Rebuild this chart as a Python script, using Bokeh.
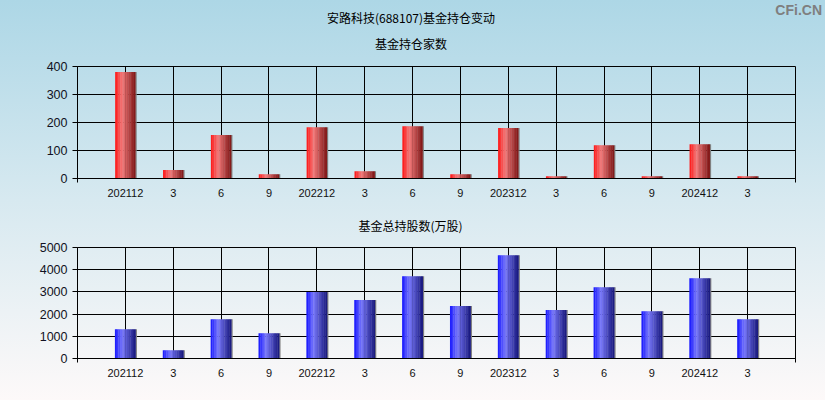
from bokeh.plotting import figure
from bokeh.layouts import column
from bokeh.models import ColumnDataSource, Range1d, FixedTicker, Div
from bokeh.transform import dodge
from bokeh.embed import file_html
from bokeh.resources import INLINE

# ---------------- data ----------------
periods = ["202112", "3", "6", "9", "202212", "3", "6", "9",
           "202312", "3", "6", "9", "202412", "3"]
fund_count = [380, 30, 155, 15, 183, 26, 187, 15, 180, 8, 119, 8, 122, 8]
fund_shares = [1320, 370, 1770, 1140, 2990, 2630, 3710, 2360,
               4650, 2180, 3210, 2130, 3620, 1770]
count_ticks = [0, 100, 200, 300, 400]
share_ticks = [0, 1000, 2000, 3000, 4000, 5000]
main_title = "安路科技(688107)基金持仓变动"
count_title = "基金持仓家数"
share_title = "基金总持股数(万股)"
watermark = "CFi.CN"

positions = list(range(1, len(periods) + 1))
CJK = "Noto Sans CJK SC"
NUM = "Liberation Sans"
W = 825
HEAD_H = 58


def hex2rgb(h):
    h = h.lstrip("#")
    return tuple(int(h[i:i + 2], 16) for i in (0, 2, 4))


def gradient(stops, n):
    out = []
    for i in range(n):
        t = (i + 0.5) / n
        for (t0, c0), (t1, c1) in zip(stops[:-1], stops[1:]):
            if t0 <= t <= t1:
                f = (t - t0) / (t1 - t0)
                a, b = hex2rgb(c0), hex2rgb(c1)
                rgb = tuple(round(a[k] + (b[k] - a[k]) * f) for k in range(3))
                out.append("#%02x%02x%02x" % rgb)
                break
    return out


RED = [(0.0, "#ff1414"), (0.35, "#f27a7a"), (1.0, "#7e1414")]
BLUE = [(0.0, "#1414ff"), (0.35, "#7878fa"), (1.0, "#16167a")]

# ---------------- header (main title, subtitle, watermark) ----------------
def centered(text, top_px):
    return (f'<div style="position:absolute;left:0;width:822px;top:{top_px}px;'
            f"text-align:center;font-family:'{CJK}';font-size:12px;"
            f'line-height:14px;color:#000;white-space:nowrap;">{text}</div>')


head_html = (
    f'<div style="position:relative;width:{W}px;height:{HEAD_H}px;margin:0;padding:0;">'
    + centered(main_title, 11)
    + centered(count_title, 36.5)
    + f'<div style="position:absolute;right:3px;top:3px;'
    f"font-family:'{NUM}';font-weight:bold;font-size:14px;line-height:14px;"
    f'color:#7f7f7f;white-space:nowrap;">{watermark}</div>'
    + '</div>'
)
head = Div(text=head_html, width=W, height=HEAD_H, margin=0,
           styles={"background": "linear-gradient(180deg, #add7e6 0%, #b9dce9 100%)"})


def make_panel(values, ticks, stops, height, left, right, top, bottom, bar_w, bg):
    p = figure(width=W, height=height, output_backend="svg",
               toolbar_location=None, x_range=Range1d(0, 15),
               y_range=Range1d(ticks[0], ticks[-1]),
               min_border_left=left, min_border_right=right,
               min_border_top=top, min_border_bottom=bottom)
    p.border_fill_color = None
    p.background_fill_color = None
    p.outline_line_color = "black"
    p.outline_line_width = 1
    p.styles = {"background": bg}

    src = ColumnDataSource(dict(x=positions, v=values))
    n = 12
    cols = gradient(stops, n)
    sw = bar_w / n
    p.vbar(x=dodge("x", bar_w / 2 + 0.012), top="v", bottom=0, width=0.03,
           source=src, fill_color="#808080", line_color=None)
    for i, c in enumerate(cols):
        off = -bar_w / 2 + (i + 0.5) * sw
        p.vbar(x=dodge("x", off), top="v", bottom=0, width=sw * 1.2,
               source=src, fill_color=c, line_color=None)

    p.xgrid.ticker = FixedTicker(ticks=positions)
    p.ygrid.ticker = FixedTicker(ticks=ticks)
    for g in (p.xgrid, p.ygrid):
        g.grid_line_color = "black"
        g.grid_line_alpha = 1
        g.grid_line_width = 1

    xa = p.xaxis[0]
    xa.ticker = FixedTicker(ticks=positions, minor_ticks=[0, 15])
    xa.major_label_overrides = {pos: lab for pos, lab in zip(positions, periods)}
    xa.major_tick_out = 0
    xa.major_tick_in = 0
    xa.minor_tick_out = 4
    xa.minor_tick_in = 0
    xa.minor_tick_line_color = "black"
    xa.axis_line_color = "black"
    xa.major_label_standoff = 6
    xa.major_label_text_font = NUM
    xa.major_label_text_font_size = "11px"
    xa.major_label_text_color = "#111111"

    ya = p.yaxis[0]
    ya.ticker = FixedTicker(ticks=ticks)
    ya.major_tick_out = 5
    ya.major_tick_in = 0
    ya.major_tick_line_color = "black"
    ya.minor_tick_line_color = None
    ya.axis_line_color = "black"
    ya.major_label_standoff = 5
    ya.major_label_text_font = NUM
    ya.major_label_text_font_size = "12.5px"
    ya.major_label_text_color = "#111122"
    return p


top = make_panel(fund_count, count_ticks, RED, 200 - HEAD_H, 68, 30, 8, 22, 0.42,
                 "linear-gradient(180deg, #b9dce9 0%, #d7e9f0 100%)")
top.title.text = ""
top.title.visible = False

bottom = make_panel(fund_shares, share_ticks, BLUE, 200, 77, 30, 47, 42, 0.43,
                    "linear-gradient(180deg, #d7e9f0 0%, #fdf9f9 100%)")
t = bottom.title
t.text = share_title
t.text_font = CJK
t.text_font_size = "12px"
t.text_font_style = "normal"
t.text_color = "black"
t.align = "left"
t.offset = 281
t.standoff = 27

layout = column(head, top, bottom, spacing=0)
open("out.html", "w").write(file_html(layout, INLINE))
